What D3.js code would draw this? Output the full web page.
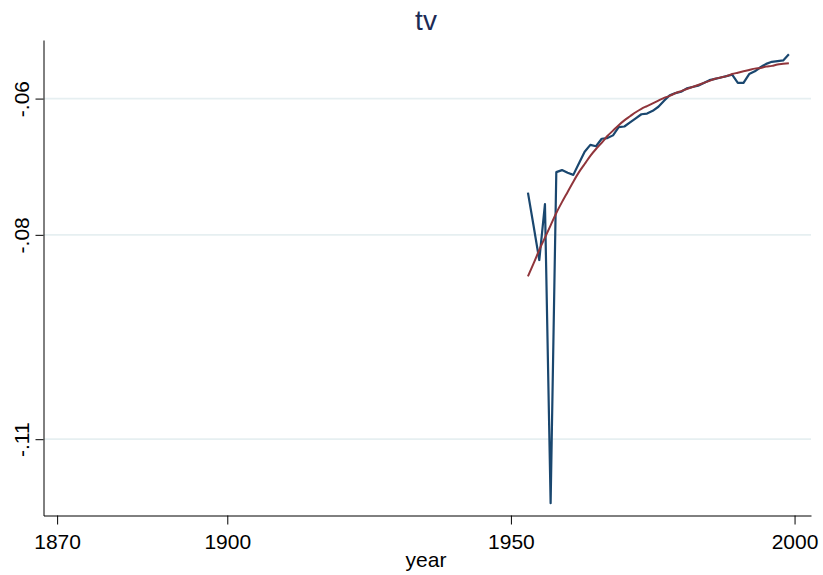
<!DOCTYPE html>
<html>
<head>
<meta charset="utf-8">
<script src="https://d3js.org/d3.v7.min.js"></script>
<style>
  body { margin: 0; background: #fff; }
  text { font-family: "Liberation Sans", Arial, sans-serif; }
</style>
</head>
<body>
<div id="chartContainer"></div>
<script>
// tv by year, with fitted curve
var years = [1953,1954,1955,1956,1957,1958,1959,1960,1961,1962,1963,1964,1965,1966,1967,1968,
             1969,1970,1971,1972,1973,1974,1975,1976,1977,1978,1979,1980,1981,1982,1983,1984,
             1985,1986,1987,1988,1989,1990,1991,1992,1993,1994,1995,1996,1997,1998,1999];
var tv = [-0.0738,-0.0787,-0.0837,-0.0755,-0.1194,-0.0708,-0.0705,-0.0709,-0.0712,-0.0695,
          -0.0678,-0.0668,-0.0670,-0.0659,-0.0658,-0.0654,-0.0642,-0.0641,-0.0635,-0.0629,
          -0.0623,-0.0622,-0.0618,-0.0612,-0.0603,-0.0595,-0.0592,-0.0590,-0.0585,-0.0583,
          -0.0581,-0.0577,-0.0573,-0.0571,-0.0569,-0.0567,-0.0565,-0.0577,-0.0577,-0.0564,
          -0.0560,-0.0554,-0.0549,-0.0546,-0.0545,-0.0544,-0.0535];
var tvFit = [-0.0861,-0.0842,-0.0822,-0.0804,-0.0786,-0.0768,-0.0752,-0.0737,-0.0722,-0.0708,
             -0.0696,-0.0684,-0.0674,-0.0665,-0.0655,-0.0647,-0.0639,-0.0632,-0.0626,-0.0620,
             -0.0615,-0.0611,-0.0607,-0.0603,-0.0599,-0.0596,-0.0592,-0.0589,-0.0586,-0.0583,
             -0.0580,-0.0577,-0.0574,-0.0571,-0.0569,-0.0567,-0.0564,-0.0562,-0.0560,-0.0558,
             -0.0556,-0.0555,-0.0553,-0.0552,-0.0550,-0.0549,-0.0548];
var xTicks = [1870, 1900, 1950, 2000];
var yTicks = [-0.06, -0.08, -0.11];

var W = 823, H = 575;
var svg = d3.select("#chartContainer").append("svg")
    .attr("width", W).attr("height", H);

var x = d3.scaleLinear().domain([1867.6, 2002.9]).range([43.5, 811]);
var y = d3.scaleLinear().domain([-0.1212, -0.0514]).range([515.5, 40]);

// gridlines
svg.append("g").selectAll("line").data(yTicks).enter().append("line")
    .attr("x1", 44).attr("x2", 811)
    .attr("y1", function(d) { return y(d); }).attr("y2", function(d) { return y(d); })
    .attr("stroke", "#e6eff1").attr("stroke-width", 1.8);

var fmt = function(d) { return "-" + d3.format(".2f")(-d).replace(/^0/, ""); };

// y axis
var gy = svg.append("g").attr("transform", "translate(43.5,0)")
    .call(d3.axisLeft(y).tickValues(yTicks).tickSizeOuter(0).tickSizeInner(8).tickFormat(fmt));
gy.select(".domain").attr("stroke", "#000");
gy.selectAll(".tick line").attr("stroke", "#000");
gy.selectAll(".tick text")
    .attr("x", 0).attr("dy", 0)
    .attr("transform", "translate(-15,0) rotate(-90)")
    .attr("text-anchor", "middle")
    .attr("fill", "#000").style("font-size", "21px");

// x axis
var gx = svg.append("g").attr("transform", "translate(0,515.5)")
    .call(d3.axisBottom(x).tickValues(xTicks).tickSizeOuter(0).tickSizeInner(9).tickFormat(d3.format("d")));
gx.select(".domain").attr("stroke", "#000");
gx.selectAll(".tick line").attr("stroke", "#000");
gx.selectAll(".tick text").attr("y", 33).attr("dy", 0)
    .attr("fill", "#000").style("font-size", "21px");

// series
var pts = years.map(function(yr, i) { return {year: yr, v: tv[i], f: tvFit[i]}; });
var lineV = d3.line().x(function(d) { return x(d.year); }).y(function(d) { return y(d.v); });
var lineF = d3.line().x(function(d) { return x(d.year); }).y(function(d) { return y(d.f); })
    .curve(d3.curveMonotoneX);

svg.append("path").datum(pts).attr("d", lineV)
    .attr("fill", "none").attr("stroke", "#1a476f").attr("stroke-width", 2.2)
    .attr("stroke-linejoin", "round");
svg.append("path").datum(pts).attr("d", lineF)
    .attr("fill", "none").attr("stroke", "#90353b").attr("stroke-width", 2);

// labels
svg.append("text").attr("x", 426).attr("y", 30).attr("text-anchor", "middle")
    .attr("fill", "#1c2b55").style("font-size", "28px").text("tv");
svg.append("text").attr("x", 426).attr("y", 567).attr("text-anchor", "middle")
    .attr("fill", "#000").style("font-size", "21px").text("year");
</script>
</body>
</html>
